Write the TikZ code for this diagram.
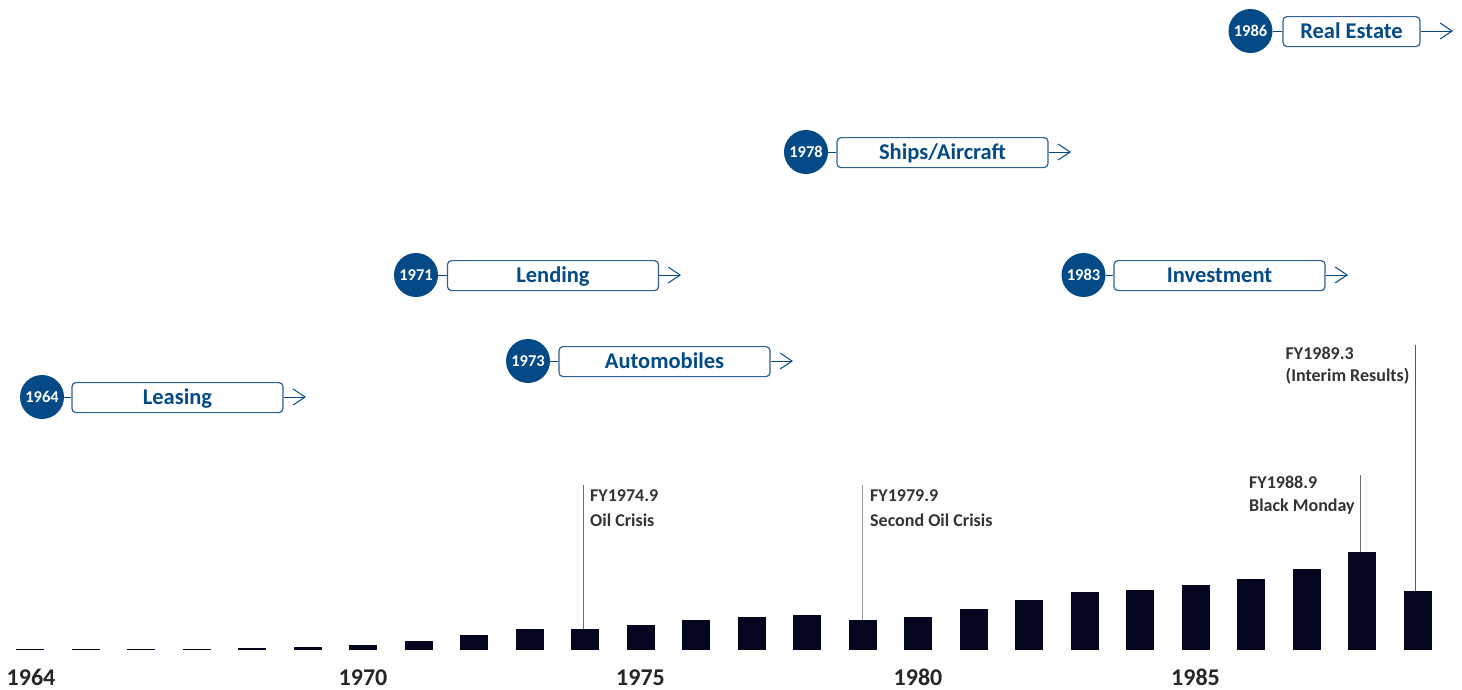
\documentclass[tikz,border=0pt]{standalone}
\usepackage{fontspec}
\setmainfont{Carlito}
\usetikzlibrary{arrows.meta}
\definecolor{brand}{HTML}{044A87}
\definecolor{boxline}{HTML}{2F5F93}
\definecolor{barfill}{HTML}{03061E}
\definecolor{note}{HTML}{333333}
\definecolor{axistext}{HTML}{262626}
\definecolor{leader}{HTML}{6E6E6E}

\begin{document}
\begin{tikzpicture}[x=1pt,y=-1pt,
  yearbadge/.style={circle, fill=brand, minimum size=44pt, inner sep=0pt,
    text=white, text height=10.4pt, text depth=0pt,
    font=\bfseries\fontsize{16.5}{16.5}\selectfont},
  fieldbox/.style={draw=boxline, line width=1.2pt, rounded corners=4pt,
    minimum width=211pt, minimum height=30pt, inner sep=0pt,
    text height=14.5pt, text depth=0pt, yshift=-0.6pt,
    text=brand, font=\bfseries\fontsize{22.5}{22.5}\selectfont},
  link/.style={draw=brand, line width=1pt},
  onward/.style={draw=brand, line width=1pt, -{Straight Barb[length=12pt,width=16pt]}},
  bar/.style={fill=barfill, draw=none, minimum width=28pt, inner sep=0pt, anchor=south},
  yearlabel/.style={text=axistext, font=\bfseries\fontsize{24}{24}\selectfont, inner sep=0pt, anchor=base},
  notetext/.style={text=note, font=\bfseries\fontsize{18}{18}\selectfont, inner sep=0pt, anchor=base west},
  noteline/.style={draw=leader, line width=1pt}
]
\useasboundingbox (0,0) rectangle (1462,689);

% business lines with their starting year
\node[yearbadge] (c1964) at (42,397) {1964};
\node[fieldbox] (b1964) at (177.5,397) {Leasing};
\coordinate (e1964) at (306,397);

\node[yearbadge] (c1971) at (416,275) {1971};
\node[fieldbox] (b1971) at (553,275) {Lending};
\coordinate (e1971) at (681,275);

\node[yearbadge] (c1973) at (528,361) {1973};
\node[fieldbox] (b1973) at (664.5,361) {Automobiles};
\coordinate (e1973) at (793,361);

\node[yearbadge] (c1978) at (806,152) {1978};
\node[fieldbox] (b1978) at (942.5,152) {Ships/Aircraft};
\coordinate (e1978) at (1071,152);

\node[yearbadge] (c1983) at (1083.5,275) {1983};
\node[fieldbox] (b1983) at (1219.5,275) {Investment};
\coordinate (e1983) at (1348,275);

\node[yearbadge] (c1986) at (1250.5,31) {1986};
\node[fieldbox, minimum width=137pt] (b1986) at (1351.5,31) {Real Estate};
\coordinate (e1986) at (1453,31);

\foreach \y in {1964,1971,1973,1978,1983,1986}{
  \draw[link] (c\y) -- (b\y.west |- c\y);
  \draw[onward] (b\y.east |- e\y) -- (e\y);
}

% yearly bars, FY1964 to FY1989.3
\foreach \h [count=\i from 0] in {1,1,1,1,2.5,3.5,5.5,9.5,15.5,21.5,21.5,25.5,30.5,33.5,35.5,30.5,33.5,41.5,50.5,58.5,60.5,65.5,71.5,81.5,98.5,59.5}{
  \node[bar, minimum height=\h pt] (bar\i) at ({30+\i*55.5},650.5) {};
}

% axis years
\node[yearlabel] (y1964) at (31,685.5) {1964};
\node[yearlabel] (y1970) at (363,685.5) {1970};
\node[yearlabel] (y1975) at (640.5,685.5) {1975};
\node[yearlabel] (y1980) at (918,685.5) {1980};
\node[yearlabel] (y1985) at (1195.5,685.5) {1985};

% event call-outs
\coordinate (n10) at (583.3,485);
\draw[noteline] (n10) -- (n10 |- bar10.north);
\node[notetext] (t10a) at (590,501.3) {FY1974.9};
\node[notetext] (t10b) at (590,526.3) {Oil Crisis};

\coordinate (n15) at (862.7,485);
\draw[noteline, draw=leader!70] (n15) -- (n15 |- bar15.north);
\node[notetext] (t15a) at (870,501.3) {FY1979.9};
\node[notetext] (t15b) at (870,526.3) {Second Oil Crisis};

\coordinate (n24) at (1360.7,475);
\draw[noteline] (n24) -- (n24 |- bar24.north);
\node[notetext] (t24a) at (1249,488.3) {FY1988.9};
\node[notetext] (t24b) at (1249,511.7) {Black Monday};

\coordinate (n25) at (1415,345);
\draw[noteline, draw=leader!80!black] (n25) -- (n25 |- bar25.north);
\node[notetext] (t25a) at (1285.5,359.3) {FY1989.3};
\node[notetext] (t25b) at (1285.5,381.3) {(Interim Results)};
\end{tikzpicture}
\end{document}
